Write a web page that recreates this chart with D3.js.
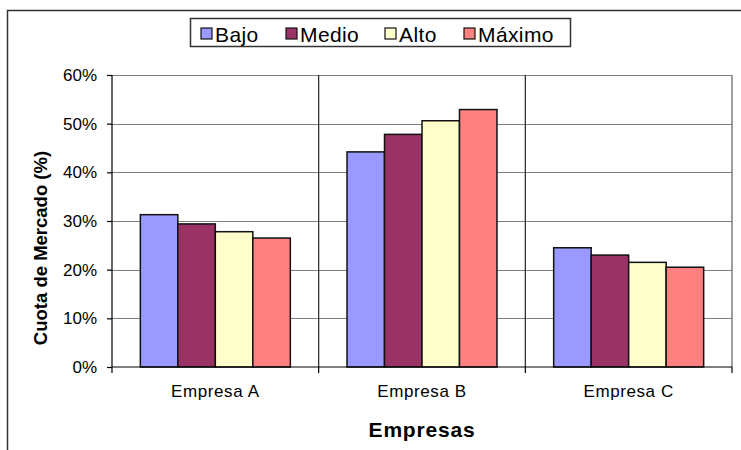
<!DOCTYPE html>
<html><head><meta charset="utf-8">
<script src="https://cdn.jsdelivr.net/npm/d3@7"></script>
<style>
html,body{margin:0;padding:0;background:#fff;}
svg{display:block;font-family:"Liberation Sans",Arial,sans-serif;}
</style></head>
<body>
<svg id="chart" width="741" height="450"></svg>
<script>
const categories = ["Empresa A", "Empresa B", "Empresa C"];
const seriesNames = ["Bajo", "Medio", "Alto", "Máximo"];
const seriesColors = ["#9999FF", "#993366", "#FFFFCC", "#FF8080"];
const bajo   = [0.313, 0.442, 0.245];
const medio  = [0.294, 0.478, 0.230];
const alto   = [0.278, 0.506, 0.215];
const maximo = [0.265, 0.529, 0.205];
const yTicks = [0, 0.1, 0.2, 0.3, 0.4, 0.5, 0.6];
const seriesValues = [bajo, medio, alto, maximo];

const svg = d3.select("#chart");
const L = 112, R = 732, T = 75, B = 367;

// outer frame
svg.append("rect").attr("x", 7.5).attr("y", 10.5).attr("width", 800).attr("height", 500)
  .attr("fill", "none").attr("stroke", "#333").attr("stroke-width", 1.5);

const x0 = d3.scaleBand().domain(categories).range([L, R]).padding(0);
const x1 = d3.scaleBand().domain(seriesNames).range([0, x0.bandwidth()]).paddingInner(0).paddingOuter(0.756);
const y = d3.scaleLinear().domain([0, 0.6]).range([B, T]);

// horizontal gridlines
svg.append("g").selectAll("line").data(yTicks.filter(d => d > 0)).join("line")
  .attr("x1", L).attr("x2", R)
  .attr("y1", d => Math.round(y(d)) + 0.5).attr("y2", d => Math.round(y(d)) + 0.5)
  .attr("stroke", "#7f7f7f").attr("stroke-width", 1.2);

// vertical category dividers
svg.append("g").selectAll("line").data(categories.slice(1)).join("line")
  .attr("x1", d => x0(d)).attr("x2", d => x0(d))
  .attr("y1", T).attr("y2", B)
  .attr("stroke", "#222").attr("stroke-width", 1.2);
// right border
svg.append("line").attr("x1", R).attr("x2", R).attr("y1", T).attr("y2", B)
  .attr("stroke", "#7f7f7f").attr("stroke-width", 1.5);

// bars
const groups = svg.append("g").selectAll("g").data(categories).join("g")
  .attr("transform", d => `translate(${x0(d)},0)`);
groups.selectAll("rect").data((c, i) => seriesNames.map((s, j) => ({s, j, v: seriesValues[j][i]}))).join("rect")
  .attr("x", d => x1(d.s)).attr("width", x1.bandwidth())
  .attr("y", d => y(d.v)).attr("height", d => B - y(d.v))
  .attr("fill", d => seriesColors[d.j])
  .attr("stroke", "#111").attr("stroke-width", 1.5);

// y axis
const yAxis = d3.axisLeft(y).tickValues(yTicks).tickFormat(d3.format(".0%")).tickSize(5).tickPadding(10);
const gy = svg.append("g").attr("transform", `translate(${L},0)`).call(yAxis);
gy.select(".domain").attr("stroke", "#000").attr("stroke-width", 1.2).attr("d", `M0,${T}V${B}`);
gy.selectAll(".tick line").attr("stroke", "#000").attr("stroke-width", 1.2);
gy.selectAll(".tick text").attr("font-size", 17).attr("font-family", "Liberation Sans, Arial, sans-serif").attr("fill", "#000");

// x axis
const xAxis = d3.axisBottom(x0).tickSize(0).tickPadding(18);
const gx = svg.append("g").attr("transform", `translate(0,${B})`).call(xAxis);
gx.select(".domain").attr("stroke", "#000").attr("stroke-width", 1.2).attr("d", `M${L},0H${R}`);
gx.selectAll(".tick text").attr("font-size", 17).attr("letter-spacing", 0.6).attr("font-family", "Liberation Sans, Arial, sans-serif").attr("fill", "#000");
// category boundary ticks
svg.append("g").selectAll("line").data([L, x0(categories[1]), x0(categories[2]), R]).join("line")
  .attr("x1", d => d).attr("x2", d => d).attr("y1", B).attr("y2", B + 6)
  .attr("stroke", "#000").attr("stroke-width", 1.2);

// axis titles
svg.append("text").attr("x", (L + R) / 2).attr("y", 437).attr("text-anchor", "middle")
  .attr("font-size", 21).attr("letter-spacing", 0.8).attr("font-weight", "bold").text("Empresas");
svg.append("text").attr("transform", `translate(47,248) rotate(-90)`).attr("text-anchor", "middle")
  .attr("font-size", 18.5).attr("font-weight", "bold").text("Cuota de Mercado (%)");

// legend
const lg = svg.append("g");
lg.append("rect").attr("x", 190.5).attr("y", 18.5).attr("width", 380).attr("height", 28)
  .attr("fill", "#fff").attr("stroke", "#333").attr("stroke-width", 1.5);
const legendX = [201, 286, 385, 464];
seriesNames.forEach((s, i) => {
  lg.append("rect").attr("x", legendX[i]).attr("y", 28).attr("width", 11).attr("height", 11)
    .attr("fill", seriesColors[i]).attr("stroke", "#111").attr("stroke-width", 1.2);
  lg.append("text").attr("x", legendX[i] + 14).attr("y", 41.5)
    .attr("font-size", 21).attr("letter-spacing", 0.4).text(s);
});
</script>
</body></html>
